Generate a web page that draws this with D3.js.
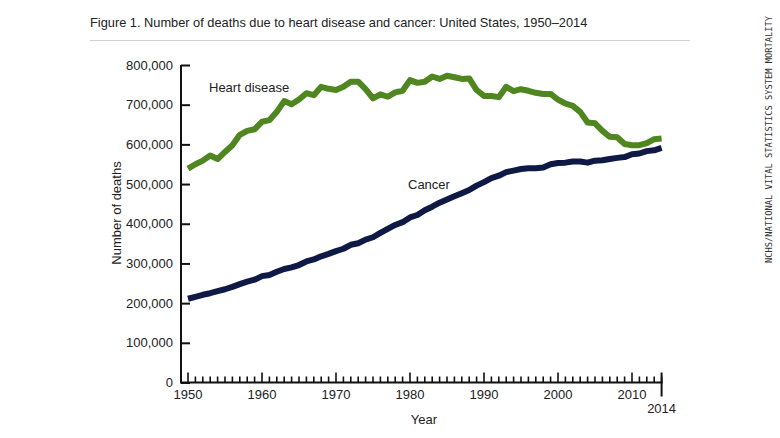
<!DOCTYPE html>
<html><head><meta charset="utf-8">
<script src="https://cdn.jsdelivr.net/npm/d3@7"></script>
<style>
html,body{margin:0;padding:0;background:#fff;}
svg{display:block;}
text{font-family:"Liberation Sans",Arial,sans-serif;fill:#222;}
</style></head>
<body>
<svg id="chart" width="780" height="438"></svg>
<script>
const years = d3.range(1950, 2015);
const heartDisease = [539000,550000,559000,572000,563000,581000,598000,624000,634000,638000,
  657000,661000,682000,709000,701000,713000,729000,724000,745000,740000,
  737000,745000,758000,758000,739000,716000,726000,720000,731000,735000,
  762000,755000,758000,771000,765000,773000,769000,765000,766000,737000,
  722000,722000,719000,745000,734000,739000,735000,730000,727000,727000,
  713000,703000,697000,682000,655000,653000,634000,619000,618000,601000,
  598000,598000,603000,613000,615000];
const cancer = [211000,216000,221000,225000,230000,235000,241000,248000,254000,259000,
  268000,271000,279000,286000,290000,296000,305000,310000,318000,324000,
  331000,337000,347000,351000,360000,366000,377000,387000,397000,404000,
  416000,422000,434000,443000,453000,461000,469000,477000,485000,496000,
  505000,515000,521000,530000,534000,538000,540000,540000,542000,550000,
  553000,554000,557000,557000,554000,559000,560000,563000,566000,568000,
  575000,577000,583000,585000,591000];
const yTicks = [0,100000,200000,300000,400000,500000,600000,700000,800000];
const xTicks = [1950,1960,1970,1980,1990,2000,2010];
const title = "Figure 1. Number of deaths due to heart disease and cancer: United States, 1950\u20132014";
const sideNote = "NCHS/NATIONAL VITAL STATISTICS SYSTEM MORTALITY";

const svg = d3.select("#chart");
const x = d3.scaleLinear().domain([1950, 2014]).range([188, 661.6]);
const y = d3.scaleLinear().domain([0, 800000]).range([382.5, 65]);
const axisX0 = 181;

// title
svg.append("text").attr("x", 90).attr("y", 27).attr("font-size", 12.8).text(title);
svg.append("line").attr("x1", 90).attr("x2", 690).attr("y1", 40.5).attr("y2", 40.5)
  .attr("stroke", "#d0d0d0").attr("stroke-width", 1);

// side note
svg.append("text").attr("transform", "translate(772,263) rotate(-90)")
  .attr("font-size", 8.5)
  .attr("textLength", 247).attr("lengthAdjust", "spacingAndGlyphs")
  .style("font-family", "'DejaVu Sans Mono',monospace").style("fill", "#333").text(sideNote);

// y axis
const yAxis = d3.axisLeft(y).tickValues(yTicks).tickSize(-9).tickPadding(8)
  .tickFormat(d3.format(","));
const gy = svg.append("g").attr("transform", `translate(${axisX0},0)`).call(yAxis);
gy.select(".domain").remove();
gy.append("line").attr("x1", 0).attr("x2", 0).attr("y1", y(800000)).attr("y2", y(0) + 1)
  .attr("stroke", "#111").attr("stroke-width", 2);
gy.selectAll(".tick line").attr("stroke", "#111").attr("stroke-width", 2);
gy.selectAll(".tick text").attr("font-size", 13).attr("fill", "#222")
  .style("font-family", "'Liberation Sans',Arial,sans-serif");

// x axis (minor + major ticks pointing up)
const gx = svg.append("g").attr("transform", `translate(0,${y(0)})`);
gx.append("line").attr("x1", axisX0).attr("x2", x(2014) + 1).attr("y1", 0).attr("y2", 0)
  .attr("stroke", "#111").attr("stroke-width", 2);
gx.selectAll("line.minor").data(years).join("line").attr("class", "minor")
  .attr("x1", d => x(d)).attr("x2", d => x(d))
  .attr("y1", 0).attr("y2", d => (d % 10 === 0 ? -10 : -6))
  .attr("stroke", "#111").attr("stroke-width", 1.6);
gx.append("line").attr("x1", x(2014)).attr("x2", x(2014)).attr("y1", -10).attr("y2", 14)
  .attr("stroke", "#111").attr("stroke-width", 2);
gx.selectAll("text.xl").data(xTicks).join("text").attr("class", "xl")
  .attr("x", d => x(d)).attr("y", 16.5).attr("text-anchor", "middle").attr("font-size", 13)
  .text(d => d);
gx.append("text").attr("x", x(2014)).attr("y", 30.5).attr("text-anchor", "middle")
  .attr("font-size", 13).text("2014");

// axis titles
svg.append("text").attr("x", 424).attr("y", 424).attr("text-anchor", "middle")
  .attr("font-size", 13).text("Year");
svg.append("text").attr("transform", "translate(121,213) rotate(-90)")
  .attr("text-anchor", "middle").attr("font-size", 13).text("Number of deaths");

// lines
const line = d3.line().x((d, i) => x(years[i])).y(d => y(d));
svg.append("path").datum(heartDisease).attr("d", line).attr("fill", "none")
  .attr("stroke", "#4f861f").attr("stroke-width", 6).attr("stroke-linejoin", "round");
svg.append("path").datum(cancer).attr("d", line).attr("fill", "none")
  .attr("stroke", "#0e1a45").attr("stroke-width", 6).attr("stroke-linejoin", "round");

// series labels
svg.append("text").attr("x", 209).attr("y", 92).attr("font-size", 13).text("Heart disease");
svg.append("text").attr("x", 408).attr("y", 189).attr("font-size", 13).text("Cancer");
</script>
</body></html>
